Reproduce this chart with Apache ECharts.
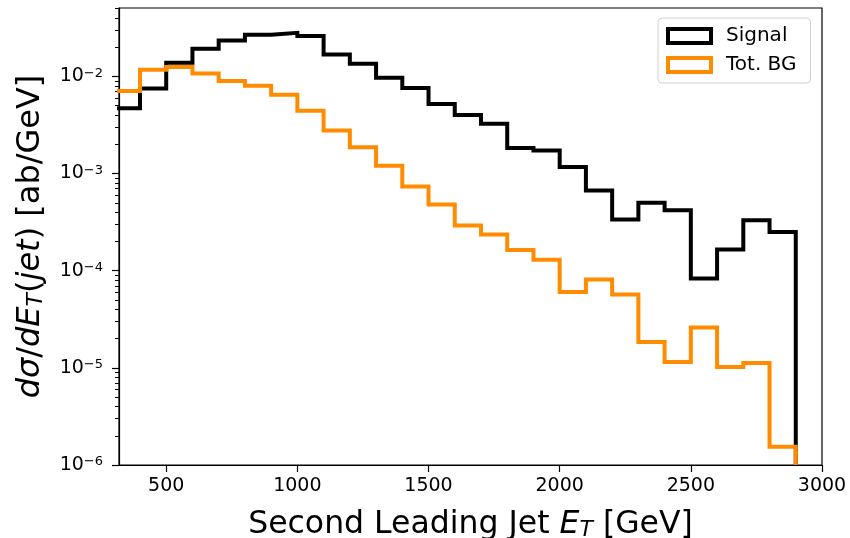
<!DOCTYPE html>
<html>
<head>
<meta charset="utf-8">
<script src="https://cdn.jsdelivr.net/npm/echarts@6/dist/echarts.min.js"></script>
<style>
html,body{margin:0;padding:0;background:#fff;}
#chart{width:850px;height:538px;}
</style>
</head>
<body>
<div id="chart"></div>
<script>
// Bin edges (GeV) and per-bin values (ab/GeV)
var binEdges = [300,400,500,600,700,800,900,1000,1100,1200,1300,1400,1500,1600,1700,1800,1900,2000,2100,2200,2300,2400,2500,2600,2700,2800,2900];
var signalValues = [4.7e-3,7.5e-3,1.38e-2,1.93e-2,2.34e-2,2.69e-2,2.81e-2,2.60e-2,1.68e-2,1.35e-2,9.7e-3,7.6e-3,5.2e-3,4.0e-3,3.26e-3,1.83e-3,1.73e-3,1.17e-3,6.7e-4,3.36e-4,5.0e-4,4.2e-4,8.3e-5,1.65e-4,3.3e-4,2.5e-4];
var bgValues = [7.06e-3,1.17e-2,1.25e-2,1.07e-2,8.95e-3,8.0e-3,6.48e-3,4.43e-3,2.77e-3,1.87e-3,1.20e-3,7.35e-4,4.8e-4,2.92e-4,2.36e-4,1.63e-4,1.30e-4,6.05e-5,8.1e-5,5.7e-5,1.85e-5,1.15e-5,2.6e-5,1.02e-5,1.12e-5,1.54e-6];
var seriesNames = ['Signal','Tot. BG'];
var xTicks = [500,1000,1500,2000,2500,3000];
var yTicks = [1e-6,1e-5,1e-4,1e-3,1e-2];
var yMinorTicks = [];
[1e-7,1e-6,1e-5,1e-4,1e-3,1e-2].forEach(function(d){for(var k=2;k<=9;k++){var v=d*k; if(v>=1e-6 && v<=0.0506) yMinorTicks.push(v);}});
var xMin = 320, xMax = 3000, yMin = 1e-6, yMax = 0.0506;

function histPoints(edges, vals){
  var pts = [];
  for (var i=0;i<vals.length;i++) pts.push([edges[i], vals[i]]);
  pts.push([edges[edges.length-1], yMin]);
  return pts;
}

var FONT = 'DejaVu Sans';
var chart = echarts.init(document.getElementById('chart'), null, {renderer:'canvas'});
chart.setOption({
  animation:false,
  backgroundColor:'#fff',
  textStyle:{fontFamily:FONT, color:'#000'},
  grid:{left:119, right:28, top:8, bottom:73, containLabel:false, outerBoundsMode:'none',
        show:true, borderColor:'#000', borderWidth:1.2, backgroundColor:'transparent'},
  legend:{
    left:658, top:18, orient:'vertical',
    padding:[8,14,8,8], itemGap:9,
    itemWidth:43, itemHeight:14,
    backgroundColor:'#fff', borderColor:'#d0d0d0', borderWidth:1, borderRadius:4,
    textStyle:{fontSize:20, fontFamily:FONT, color:'#000', padding:[0,0,0,10]},
    data:[
      {name:seriesNames[0], icon:'rect', itemStyle:{color:'#fff', borderColor:'#000', borderWidth:4}},
      {name:seriesNames[1], icon:'rect', itemStyle:{color:'#fff', borderColor:'#ff8c00', borderWidth:4}}
    ]
  },
  xAxis:{
    type:'value', min:xMin, max:xMax,
    name:'{n|Second Leading Jet }{i|E}{sub|T}{n| [GeV]}',
    nameLocation:'middle', nameGap:44,
    nameTextStyle:{rich:{
      n:{fontSize:31.5, fontFamily:FONT, color:'#000'},
      i:{fontSize:31.5, fontFamily:FONT, fontStyle:'italic', color:'#000'},
      sub:{fontSize:22, fontFamily:FONT, fontStyle:'italic', color:'#000', verticalAlign:'bottom'}
    }},
    axisLine:{show:true, lineStyle:{color:'#000', width:1.2}},
    axisTick:{show:true, length:7, lineStyle:{color:'#000', width:1.2}, customValues:xTicks},
    axisLabel:{fontSize:19, fontFamily:FONT, color:'#000', margin:12, customValues:xTicks,
      formatter:function(v){return String(Math.round(v));}},
    splitLine:{show:false}
  },
  yAxis:[{
    type:'log', logBase:10, min:yMin, max:yMax,
    name:'{i|dσ}{n|/}{i|dE}{sub|T}{n|(}{i|jet}{n|) [ab/GeV]}',
    nameLocation:'middle', nameGap:72, nameRotate:90,
    nameTextStyle:{rich:{
      n:{fontSize:32, fontFamily:FONT, color:'#000'},
      i:{fontSize:32, fontFamily:FONT, fontStyle:'italic', color:'#000'},
      sub:{fontSize:22, fontFamily:FONT, fontStyle:'italic', color:'#000', verticalAlign:'bottom'}
    }},
    axisLine:{show:true, lineStyle:{color:'#000', width:1.2}},
    axisTick:{show:true, length:7, lineStyle:{color:'#000', width:1.2}, customValues:yTicks},
    axisLabel:{
      margin:16, customValues:yTicks,
      formatter:function(v){var e=Math.round(Math.log10(v)); return '{b|10}{s|' + (e<0?'\u2212':'') + Math.abs(e) + '}';},
      rich:{
        b:{fontSize:19, fontFamily:FONT, color:'#000'},
        s:{fontSize:13, fontFamily:FONT, color:'#000', verticalAlign:'top'}
      }
    },
    splitLine:{show:false}, minorTick:{show:false}
  },{
    type:'log', logBase:10, min:yMin, max:yMax, position:'left',
    axisLine:{show:false},
    axisTick:{show:true, length:4, lineStyle:{color:'#000', width:1}, customValues:yMinorTicks},
    axisLabel:{show:false},
    splitLine:{show:false}
  }],
  series:[
    {name:seriesNames[0], type:'line', step:'end', symbol:'none', clip:true, z:2,
     data:histPoints(binEdges, signalValues),
     itemStyle:{color:'#000'},
     lineStyle:{color:'#000', width:4, join:'miter', cap:'butt'}},
    {name:seriesNames[1], type:'line', step:'end', symbol:'none', clip:true, z:3,
     data:histPoints(binEdges, bgValues),
     itemStyle:{color:'#ff8c00'},
     lineStyle:{color:'#ff8c00', width:4, join:'miter', cap:'butt'}}
  ]
});
</script>
</body>
</html>
